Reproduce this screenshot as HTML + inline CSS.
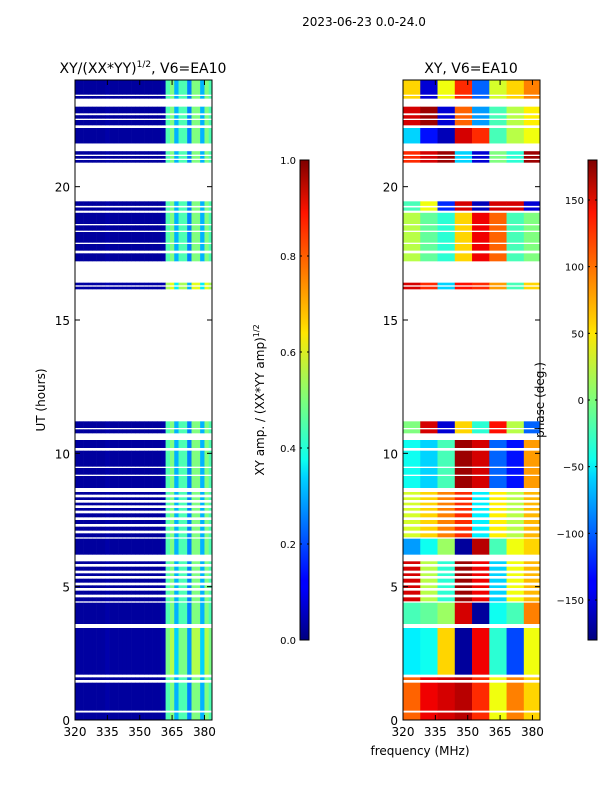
<!DOCTYPE html>
<html><head><meta charset="utf-8"><style>
body{margin:0;background:#fff;}
svg text{font-family:"DejaVu Sans","Liberation Sans",sans-serif;fill:#000;}
</style></head><body>
<svg id="chart" width="600" height="800" xmlns="http://www.w3.org/2000/svg">
<text x="364" y="26" font-size="12" text-anchor="middle">2023-06-23 0.0-24.0</text>
<text x="143" y="73" font-size="14" text-anchor="middle">XY/(XX*YY)<tspan font-size="9" dy="-6">1/2</tspan><tspan dy="6">, V6=EA10</tspan></text>
<text x="471" y="73" font-size="14" text-anchor="middle">XY, V6=EA10</text>
<text x="45" y="400" font-size="12" text-anchor="middle" transform="rotate(-90 45 400)">UT (hours)</text>
<text x="420" y="755" font-size="12" text-anchor="middle">frequency (MHz)</text>
<text x="264" y="400" font-size="12" text-anchor="middle" transform="rotate(-90 264 400)">XY amp. / (XX*YY amp)<tspan font-size="8" dy="-5">1/2</tspan></text>
<text x="544" y="400" font-size="12" text-anchor="middle" transform="rotate(-90 544 400)">phase (deg.)</text>
<defs>
<linearGradient id="jet" x1="0" y1="1" x2="0" y2="0">
<stop offset="0" stop-color="#00007f"/><stop offset="0.11" stop-color="#0000ff"/><stop offset="0.125" stop-color="#0000ff"/><stop offset="0.34" stop-color="#00d4ff"/><stop offset="0.375" stop-color="#0dffef"/><stop offset="0.5" stop-color="#7dff7a"/><stop offset="0.64" stop-color="#ffe600"/><stop offset="0.66" stop-color="#ffd200"/><stop offset="0.89" stop-color="#ff1400"/><stop offset="1" stop-color="#7f0000"/>
</linearGradient>
</defs>
</svg>
<script>
// data
const phaseBlocks = [
 [60,-150,40,120,-100,30,60,90],
 [150,170,-150,100,-80,-20,20,50],
 [-60,-130,-160,150,120,-20,20,40],
 [120,150,170,-60,-150,0,-30,170],
 [-20,40,-120,150,-160,150,150,-150],
 [20,-10,-30,60,140,100,-20,0],
 [150,120,-60,130,120,80,-20,60],
 [0,150,-150,60,-30,130,20,-100],
 [-40,-60,-20,170,150,-100,-130,80],
 [30,60,90,120,-50,50,20,70],
 [-80,-40,10,-170,160,-20,40,60],
 [150,20,-30,170,140,-60,40,70],
 [-20,-10,10,150,-170,-40,-20,90],
 [-50,-40,60,-170,140,-30,-110,40],
 [100,140,150,160,120,40,90,60]
];
const blockGain = [1,1,1,1,1,1,1.2,1,1,1,1,1,1,1.1,1];
const ampProfile = [0.03,0.03,0.03,0.03,0.03,0.03,0.03,0.04,0.03,0.03,0.03,0.03,0.03,0.03,0.03,0.03,0.03,0.03,0.03,0.03,0.04,0.45,0.5,0.3,0.45,0.45,0.25,0.5,0.5,0.3,0.5,0.45];
const rows = [
 [23.45,24,0],[23.3,23.4,0],[22.75,23.0,1],[22.55,22.68,1],[22.3,22.5,1],[21.62,22.2,2],
 [21.2,21.33,3],[21.05,21.15,3],[20.9,21.0,3],[19.28,19.45,4],[19.1,19.22,4],
 [18.6,19.02,5],[18.35,18.55,5],[17.9,18.3,5],[17.6,17.85,5],[17.2,17.5,5],
 [16.3,16.4,6],[16.15,16.25,6],[10.95,11.2,7],[10.75,10.9,7],
 [10.2,10.5,8],[9.5,10.1,8],[9.2,9.45,8],[8.7,9.15,8],
 [8.45,8.55,9],[8.25,8.35,9],[8.05,8.15,9],[7.85,7.95,9],[7.6,7.75,9],[7.35,7.5,9],[7.1,7.25,9],[6.85,7.0,9],
 [6.2,6.8,10],
 [5.85,5.95,11],[5.6,5.75,11],[5.4,5.5,11],[5.15,5.3,11],[4.95,5.05,11],[4.7,4.85,11],[4.45,4.6,11],
 [3.6,4.4,12],[1.7,3.45,13],[1.5,1.6,14],[0.35,1.4,14],[0,0.28,14]
];
const xTicks = [320,335,350,365,380];
const yTicks = [0,5,10,15,20];
const ampTicks = [0.0,0.2,0.4,0.6,0.8,1.0];
const phaseTicks = [-150,-100,-50,0,50,100,150];

const NS='http://www.w3.org/2000/svg';
const svg=document.getElementById('chart');
function el(t,a,p){const e=document.createElementNS(NS,t);for(const k in a)e.setAttribute(k,a[k]);(p||svg).appendChild(e);return e;}
function jet(t){t=Math.max(0,Math.min(1,t));const c=v=>Math.round(255*Math.max(0,Math.min(1,v)));
 return `rgb(${c(1.5-Math.abs(4*t-3))},${c(1.5-Math.abs(4*t-2))},${c(1.5-Math.abs(4*t-1))})`;}
const FMIN=320,FMAX=383.5;
function yS(h){return 720-h*640/24;}
const panels=[{x0:75,name:'amp'},{x0:403,name:'phase'}];
function xS(p,f){return p.x0+(f-FMIN)*137/(FMAX-FMIN);}

panels.forEach(p=>{
 const g=el('g',{});
 
 
 rows.forEach(r=>{
  const [h0,h1,b]=r;
  if(p.name==='amp'){
   ampProfile.forEach((v,i)=>{
    const f0=FMIN+i*2,f1=Math.min(FMAX,f0+2);
    const c=el('rect',{x:xS(p,f0),y:yS(h1),width:xS(p,f1)-xS(p,f0)+0.3,height:yS(h0)-yS(h1),fill:jet(v*blockGain[b])},g);
    
    
   });
  } else {
   phaseBlocks[b].forEach((v,i)=>{
    const f0=FMIN+i*8,f1=Math.min(FMAX,f0+8);
    const c=el('rect',{x:xS(p,f0),y:yS(h1),width:xS(p,f1)-xS(p,f0)+0.3,height:yS(h0)-yS(h1),fill:jet((v+180)/360)},g);
    
    
   });
  }
 });
 const fr=el('rect',{x:p.x0,y:80,width:137,height:640,fill:'none',stroke:'#000','stroke-width':1});
 
 
 xTicks.forEach(t=>{
  const x=xS(p,t);
  el('line',{x1:x,y1:720,x2:x,y2:715,stroke:'#000'});
  el('line',{x1:x,y1:80,x2:x,y2:85,stroke:'#000'});
  const tx=el('text',{x:x,y:736,'font-size':12,'text-anchor':'middle'});tx.textContent=t;
  
  
 });
 yTicks.forEach(t=>{
  const y=yS(t);
  el('line',{x1:p.x0,y1:y,x2:p.x0+5,y2:y,stroke:'#000'});
  el('line',{x1:p.x0+137,y1:y,x2:p.x0+132,y2:y,stroke:'#000'});
  const tx=el('text',{x:p.x0-5,y:y+5,'font-size':12,'text-anchor':'end'});tx.textContent=t;
  
  
 });
});

function colorbar(x,ticks,vmin,vmax,name,fmt){
 const r=el('rect',{x:x,y:160,width:9,height:480,fill:'url(#jet)',stroke:'#000','stroke-width':1});
 
 
 ticks.forEach(t=>{
  const y=640-(t-vmin)/(vmax-vmin)*480;
  el('line',{x1:x,y1:y,x2:x+2,y2:y,stroke:'#000'});
  el('line',{x1:x+9,y1:y,x2:x+7,y2:y,stroke:'#000'});
  const tx=el('text',{x:x-4,y:y+4,'font-size':10,'text-anchor':'end'});tx.textContent=fmt(t);
  
  
 });
}
colorbar(300,ampTicks,0,1,'amp-colorbar',t=>t.toFixed(1));
colorbar(588,phaseTicks,-180,180,'phase-colorbar',t=>String(t).replace('-','\u2212'));
</script>
</body></html>
